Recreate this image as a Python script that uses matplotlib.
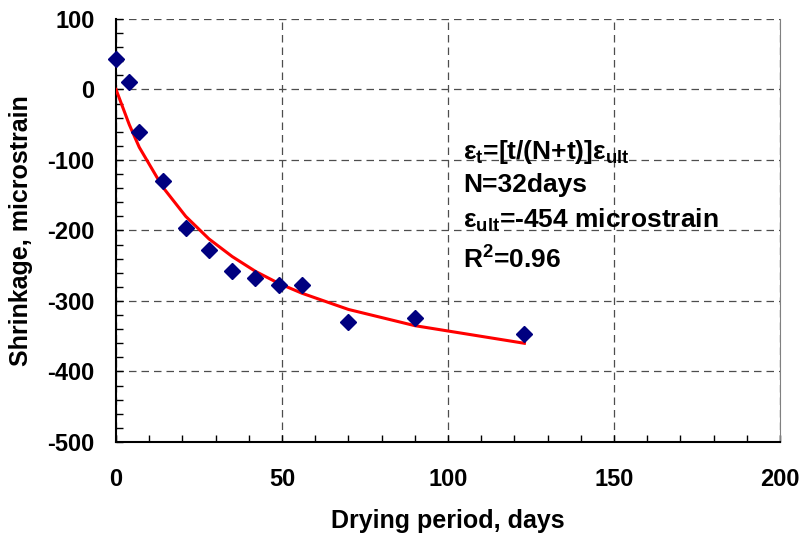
import numpy as np
import matplotlib
matplotlib.use('Agg')
import matplotlib.pyplot as plt
from matplotlib.ticker import MultipleLocator

# measured shrinkage (microstrain) vs drying period (days)
days = [0, 4, 7, 14, 21, 28, 35, 42, 49, 56, 70, 90, 123]
shrinkage = [43, 10, -60, -130, -197, -227, -257, -267, -277, -277, -330, -324, -347]

# fitted curve values read at the same days
fit = [0, -50, -82, -138, -180, -212, -237, -258, -275, -289, -312, -335, -360]

plt.rcParams['font.family'] = ['Liberation Sans', 'DejaVu Sans']
plt.rcParams['font.weight'] = 'bold'
plt.rcParams['axes.unicode_minus'] = False
plt.rcParams['mathtext.fontset'] = 'custom'
plt.rcParams['mathtext.rm'] = 'Liberation Sans:bold'
plt.rcParams['mathtext.it'] = 'Liberation Sans:bold'
plt.rcParams['mathtext.bf'] = 'Liberation Sans:bold'

fig = plt.figure(figsize=(8.03, 5.36), dpi=100)
ax = fig.add_axes([0.1445, 0.1754, 0.8269, 0.7892])

ax.plot(days, fit, color='red', lw=2.2, zorder=3)
ax.plot(days, shrinkage, linestyle='none', marker='D', ms=8.5,
        color='#000080', zorder=4, clip_on=False)

ax.set_xlim(0, 200)
ax.set_ylim(-500, 100)
ax.xaxis.set_major_locator(MultipleLocator(50))
ax.xaxis.set_minor_locator(MultipleLocator(10))
ax.yaxis.set_major_locator(MultipleLocator(100))
ax.yaxis.set_minor_locator(MultipleLocator(20))

ax.grid(True, which='major', linestyle=(0, (6, 4)), color='0.3', lw=0.9)
ax.tick_params(which='both', direction='in', length=5, width=1, colors='black')
ax.tick_params(axis='x', which='major', pad=19, labelsize=17)
ax.tick_params(axis='y', which='major', pad=15.5, labelsize=17)
for lab in ax.get_xticklabels() + ax.get_yticklabels():
    lab.set_fontweight('bold')

ax.spines['left'].set_linewidth(1.5)
ax.spines['bottom'].set_linewidth(1.5)
ax.spines['top'].set_visible(False)
ax.spines['right'].set_color('0.5')

ax.set_xlabel('Drying period, days', fontsize=18, fontweight='bold', va='center')
ax.set_ylabel('Shrinkage, microstrain', fontsize=18, fontweight='bold', va='center')
ax.xaxis.set_label_coords(0.5, -0.187)
ax.yaxis.set_label_coords(-0.143, 0.5)

txt_x = 104.5
ax.text(txt_x, -89, u'\u03b5$_{t}$=[t/(N+t)]\u03b5$_{ult}$', fontsize=19, fontweight='bold', va='center')
ax.text(txt_x, -135, 'N=32days', fontsize=19, fontweight='bold', va='center')
ax.text(txt_x, -185, u'\u03b5$_{ult}$=-454 microstrain', fontsize=19, fontweight='bold', va='center')
ax.text(txt_x, -242, 'R$^{2}$=0.96', fontsize=19, fontweight='bold', va='center')

fig.savefig('out.png', dpi=100)
